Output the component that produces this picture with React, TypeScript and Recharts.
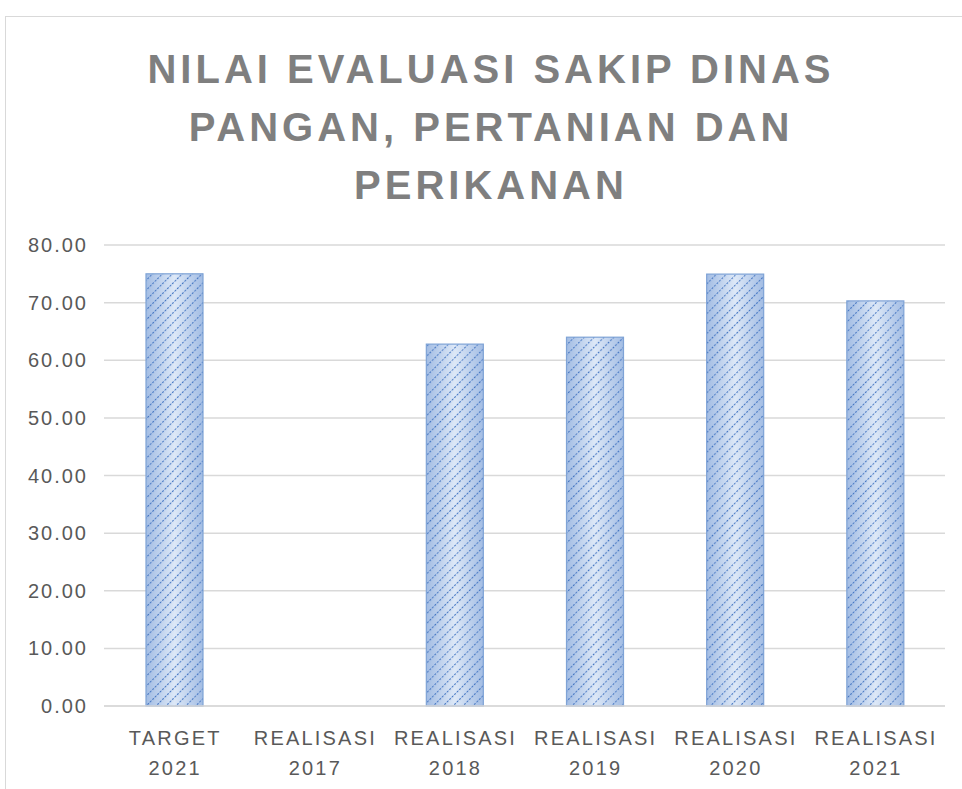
import { BarChart, Bar, XAxis, YAxis, CartesianGrid } from 'recharts'

const categories = ['TARGET 2021', 'REALISASI 2017', 'REALISASI 2018', 'REALISASI 2019', 'REALISASI 2020', 'REALISASI 2021']
const scores = [75.0, 0, 62.8, 64.0, 74.95, 70.3]
const yTicks = [0, 10, 20, 30, 40, 50, 60, 70, 80]
const titleLines = ['NILAI EVALUASI SAKIP DINAS', 'PANGAN, PERTANIAN DAN', 'PERIKANAN']

const data = categories.map((name, i) => ({ name, score: scores[i] }))

const font = '"Liberation Sans", "DejaVu Sans", sans-serif'

function CategoryTick(props: any) {
  const { x, y, payload } = props
  const words = String(payload.value).split(' ')
  return (
    <g transform={`translate(${x},${y})`}>
      {words.map((w: string, i: number) => (
        <text
          key={i}
          x={1.1}
          y={i * 30}
          dy={31}
          textAnchor="middle"
          fill="#595959"
          fontSize={20}
          fontFamily={font}
          letterSpacing={2.2}
        >
          {w}
        </text>
      ))}
    </g>
  )
}

// gradient body with the dotted diagonal hatch laid on top
function HatchBar(props: any) {
  const { x, y, width, height } = props
  if (!height || height <= 0) return null
  return (
    <g>
      <rect x={x} y={y} width={width} height={height} fill="url(#barGrad)" />
      <rect x={x} y={y} width={width} height={height} fill="url(#hatch)" stroke="#7fa3d6" strokeWidth={1.2} />
    </g>
  )
}

export default function App() {
  return (
    <div style={{ position: 'absolute', left: 0, top: 0, width: 962, height: 789, overflow: 'hidden', background: '#fff' }}>
      <div style={{ position: 'absolute', left: 5, top: 16, width: 1000, height: 800, border: '1px solid #d9d9d9' }} />
      <div
        style={{
          position: 'absolute',
          left: 0,
          top: 40,
          width: 982,
          textAlign: 'center',
          fontFamily: font,
          fontWeight: 'bold',
          fontSize: 40,
          lineHeight: '58px',
          letterSpacing: 4,
          color: '#7f7f7f',
        }}
      >
        {titleLines.map((t) => (
          <div key={t}>{t}</div>
        ))}
      </div>
      <div style={{ position: 'absolute', left: 0, top: 0 }}>
        <BarChart width={962} height={789} data={data} margin={{ top: 245, right: 17, bottom: 0, left: 4 }}>
          <defs>
            <linearGradient id="barGrad" x1="0" y1="0" x2="1" y2="0">
              <stop offset="0%" stopColor="#a3bde4" />
              <stop offset="50%" stopColor="#dde8f7" />
              <stop offset="100%" stopColor="#a3bde4" />
            </linearGradient>
            <pattern id="hatch" width="7" height="7" patternUnits="userSpaceOnUse" patternTransform="rotate(45)">
              <line x1="0" y1="0" x2="0" y2="7" stroke="#4576c2" strokeWidth="2.2" strokeDasharray="2 1.5" />
            </pattern>
          </defs>
          <CartesianGrid vertical={false} stroke="#d9d9d9" strokeWidth={1.5} />
          <XAxis
            dataKey="name"
            tick={<CategoryTick />}
            tickLine={false}
            axisLine={{ stroke: '#d9d9d9', strokeWidth: 1.5 }}
            interval={0}
            height={83}
          />
          <YAxis
            domain={[0, 80]}
            ticks={yTicks}
            tickFormatter={(v: number) => v.toFixed(2)}
            tick={{ fill: '#595959', fontSize: 20, fontFamily: font, letterSpacing: 2 }}
            tickLine={false}
            axisLine={false}
            tickMargin={10}
            width={100}
          />
          <Bar dataKey="score" barSize={57} shape={<HatchBar />} isAnimationActive={false} />
        </BarChart>
      </div>
    </div>
  )
}
